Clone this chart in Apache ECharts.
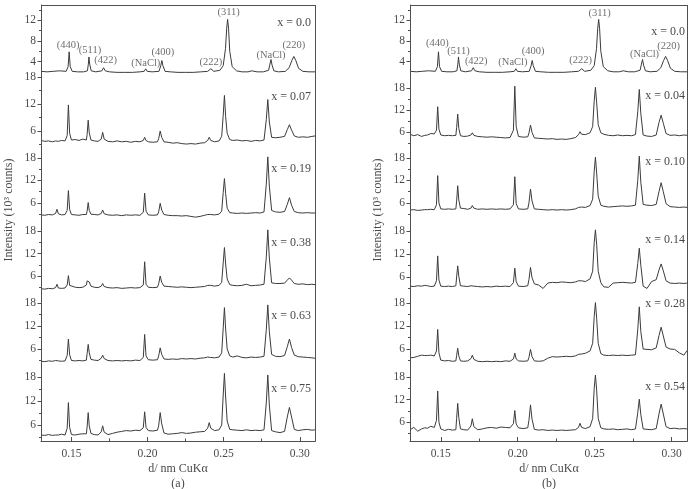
<!DOCTYPE html>
<html lang="en">
<head>
<meta charset="UTF-8">
<title>XRD patterns</title>
<script src="https://cdn.jsdelivr.net/npm/echarts@6/dist/echarts.min.js"></script>
<style>
  html, body { margin: 0; padding: 0; background: #fff; }
  #chart { width: 691px; height: 489px; }
</style>
</head>
<body>
<div id="chart"></div>
<script>
// d spacing (nm) sampled for the undoped x = 0.0 pattern (top row of both panels)
var dTop = [
  0.1300, 0.1340, 0.1380, 0.1420, 0.1465, 0.1478, 0.1485, 0.1492, 0.1505, 0.1540,
  0.1580, 0.1605, 0.1611, 0.1615, 0.1620, 0.1630, 0.1660, 0.1700, 0.1711, 0.1722,
  0.1750, 0.1800, 0.1850, 0.1900, 0.1950, 0.1978, 0.1988, 0.1998, 0.2030, 0.2075,
  0.2087, 0.2094, 0.2101, 0.2115, 0.2150, 0.2200, 0.2250, 0.2300, 0.2350, 0.2395,
  0.2416, 0.2435, 0.2475, 0.2497, 0.2512, 0.2520, 0.2526, 0.2532, 0.2540, 0.2556,
  0.2585, 0.2620, 0.2660, 0.2685, 0.2720, 0.2760, 0.2795, 0.2804, 0.2811, 0.2818,
  0.2830, 0.2860, 0.2905, 0.2930, 0.2948, 0.2961, 0.2974, 0.2992, 0.3020, 0.3060,
  0.3100
];
var x00 = [
  2.1, 2.0, 2.1, 2.2, 2.1, 3.0, 5.9, 3.0, 2.1, 2.0,
  2.0, 2.2, 3.5, 4.9, 3.5, 2.2, 2.0, 2.2, 2.8, 2.2,
  2.0, 1.9, 1.9, 1.9, 2.0, 2.1, 2.6, 2.1, 2.0, 2.1,
  3.2, 4.2, 3.2, 2.1, 2.0, 1.9, 1.9, 1.9, 2.0, 2.1,
  2.6, 2.1, 2.3, 3.2, 6.5, 10.5, 12.2, 10.5, 6.0, 3.0,
  2.2, 2.0, 2.0, 2.2, 2.0, 2.0, 2.3, 3.5, 4.4, 3.3,
  2.2, 2.0, 2.1, 2.8, 4.2, 5.0, 4.2, 2.7, 2.1, 2.0,
  2.0
];

// d spacing (nm) sampled for the doped samples
var dGrid = [
  0.1300, 0.1325, 0.1350, 0.1375, 0.1396, 0.1405, 0.1414, 0.1435, 0.1458, 0.1472,
  0.1480, 0.1488, 0.1500, 0.1525, 0.1550, 0.1575, 0.1598, 0.1603, 0.1610, 0.1617,
  0.1628, 0.1650, 0.1675, 0.1696, 0.1705, 0.1715, 0.1740, 0.1770, 0.1800, 0.1830,
  0.1860, 0.1890, 0.1920, 0.1950, 0.1972, 0.1981, 0.1990, 0.2005, 0.2035, 0.2065,
  0.2073, 0.2083, 0.2093, 0.2108, 0.2135, 0.2165, 0.2195, 0.2225, 0.2255, 0.2285,
  0.2315, 0.2345, 0.2375, 0.2395, 0.2405, 0.2415, 0.2440, 0.2470, 0.2487, 0.2497,
  0.2505, 0.2513, 0.2523, 0.2540, 0.2560, 0.2590, 0.2620, 0.2650, 0.2680, 0.2710,
  0.2740, 0.2765, 0.2780, 0.2790, 0.2800, 0.2815, 0.2840, 0.2870, 0.2900, 0.2918,
  0.2932, 0.2946, 0.2964, 0.2990, 0.3020, 0.3050, 0.3080, 0.3100
];

// panel (a)
var a07 = [
  3.9, 3.7, 3.8, 3.6, 3.8, 3.9, 3.7, 3.9, 3.8, 5.0,
  11.8, 5.5, 4.0, 4.1, 3.9, 4.2, 4.0, 5.2, 8.4, 5.6,
  4.0, 3.8, 3.7, 4.2, 5.7, 4.2, 3.7, 3.6, 3.8, 3.6,
  3.7, 3.5, 3.7, 3.6, 3.9, 4.6, 3.9, 3.6, 3.5, 3.6,
  4.3, 6.0, 4.6, 3.6, 3.5, 3.3, 3.4, 3.2, 3.1, 3.2,
  3.1, 3.3, 3.4, 3.9, 4.6, 3.9, 3.6, 3.8, 4.8, 9.5,
  13.9, 9.2, 5.5, 4.1, 3.9, 4.0, 3.8, 3.9, 3.7, 3.9,
  3.8, 4.0, 8.5, 13.0, 8.0, 4.6, 4.5, 4.6, 4.8, 6.3,
  7.4, 6.2, 4.9, 4.6, 4.7, 4.6, 4.8, 4.9
];
var a19 = [
  2.8, 2.7, 2.9, 2.8, 3.2, 4.3, 3.1, 2.8, 2.9, 4.0,
  9.3, 4.3, 2.9, 2.8, 2.7, 2.9, 2.9, 3.8, 6.1, 4.0,
  3.0, 2.9, 2.8, 3.2, 4.1, 3.1, 2.8, 2.7, 2.8, 2.6,
  2.8, 2.7, 2.8, 2.7, 3.5, 8.6, 3.8, 2.8, 2.7, 2.8,
  3.6, 5.9, 4.1, 2.9, 2.7, 2.6, 2.6, 2.5, 2.6, 2.4,
  2.2, 2.4, 2.7, 2.9, 3.3, 2.9, 2.8, 3.0, 3.8, 8.8,
  12.5, 8.5, 4.6, 3.4, 3.3, 3.2, 3.3, 3.2, 3.3, 3.4,
  3.3, 3.6, 11.0, 18.3, 10.5, 4.0, 3.6, 3.5, 3.7, 5.6,
  7.4, 5.4, 3.7, 3.4, 3.3, 3.4, 3.3, 3.3
];
var a38 = [
  2.6, 2.5, 2.7, 2.6, 2.9, 3.8, 2.8, 2.7, 2.8, 3.6,
  6.1, 3.5, 3.0, 3.0, 2.9, 3.0, 3.6, 4.7, 4.9, 4.4,
  3.3, 3.0, 2.9, 3.3, 4.0, 3.2, 2.9, 2.8, 2.9, 2.7,
  2.8, 2.9, 2.8, 2.9, 3.6, 9.8, 3.8, 3.0, 2.9, 3.0,
  3.9, 6.0, 4.3, 3.3, 3.2, 3.1, 3.0, 3.1, 3.0, 2.9,
  3.0, 3.1, 3.2, 3.5, 4.0, 3.5, 3.3, 3.5, 4.3, 9.5,
  13.6, 9.2, 5.2, 3.7, 3.5, 3.4, 3.5, 3.8, 3.4, 3.5,
  3.6, 3.8, 11.0, 18.3, 10.8, 4.2, 4.0, 4.0, 4.1, 4.9,
  5.5, 4.9, 4.0, 3.8, 3.9, 3.7, 3.8, 3.7
];
var a63 = [
  2.8, 2.7, 2.9, 2.8, 3.0, 3.3, 2.9, 2.8, 2.9, 4.3,
  8.6, 4.5, 3.0, 2.9, 3.0, 2.9, 3.1, 4.8, 7.2, 5.0,
  3.3, 3.1, 3.0, 3.6, 4.4, 3.5, 3.0, 2.9, 3.0, 2.9,
  3.0, 2.9, 3.1, 3.0, 3.8, 9.8, 4.2, 3.2, 3.1, 3.2,
  4.2, 6.3, 4.6, 3.4, 3.3, 3.4, 3.3, 3.5, 3.4, 3.5,
  3.4, 3.6, 3.7, 3.9, 4.0, 3.8, 3.7, 3.9, 5.0, 11.5,
  16.8, 11.2, 6.0, 4.2, 3.9, 4.2, 3.8, 3.7, 3.9, 3.8,
  3.9, 4.1, 11.0, 17.5, 10.5, 4.6, 4.1, 4.0, 4.3, 6.6,
  8.6, 6.4, 4.4, 4.0, 3.9, 3.8, 3.7, 3.6
];
var a75 = [
  3.5, 3.4, 3.6, 3.4, 3.5, 3.6, 3.5, 3.7, 3.5, 5.2,
  11.6, 5.4, 3.6, 3.5, 3.7, 3.8, 3.8, 5.5, 9.1, 5.8,
  3.9, 3.6, 3.5, 4.3, 5.8, 4.2, 3.6, 3.9, 4.2, 4.4,
  4.6, 4.5, 4.7, 4.6, 5.3, 9.3, 5.4, 4.6, 4.5, 4.7,
  5.8, 9.1, 6.3, 4.0, 3.7, 3.8, 3.9, 4.1, 3.9, 4.0,
  4.2, 4.3, 4.4, 5.2, 6.6, 5.2, 4.6, 4.8, 6.0, 13.5,
  18.9, 13.0, 7.0, 4.9, 4.8, 4.7, 4.6, 4.8, 4.6, 4.7,
  4.6, 4.8, 11.5, 18.5, 11.0, 4.6, 4.3, 4.1, 4.4, 8.0,
  10.4, 8.0, 4.9, 4.6, 4.8, 4.9, 4.7, 4.8
];

// panel (b)
var b04 = [
  5.4, 5.0, 5.3, 4.8, 5.1, 5.0, 5.2, 5.6, 5.5, 6.5,
  12.9, 6.8, 5.2, 5.0, 5.1, 5.0, 5.1, 7.2, 10.9, 7.0,
  5.0, 4.8, 4.9, 5.2, 5.8, 5.1, 4.8, 4.7, 4.6, 4.7,
  4.6, 4.5, 4.4, 4.5, 6.5, 18.5, 7.5, 4.8, 4.6, 4.7,
  5.7, 7.9, 5.9, 4.4, 4.3, 4.2, 4.1, 4.2, 4.0, 4.1,
  4.0, 4.2, 4.5, 5.3, 6.1, 5.4, 5.3, 5.8, 7.5, 14.5,
  18.2, 14.0, 8.0, 5.8, 5.4, 5.1, 5.0, 5.2, 5.0, 5.1,
  5.0, 5.3, 11.5, 17.6, 11.0, 5.2, 4.9, 4.8, 5.2, 8.6,
  10.6, 8.4, 5.6, 5.1, 5.2, 5.0, 5.2, 5.1
];
var b10 = [
  4.1, 4.2, 4.0, 4.1, 4.2, 4.1, 4.2, 4.3, 4.2, 5.5,
  13.3, 6.0, 4.4, 4.3, 4.4, 4.3, 4.4, 6.5, 10.6, 6.8,
  4.6, 4.5, 4.3, 4.6, 5.3, 4.6, 4.3, 4.4, 4.3, 4.4,
  4.3, 4.4, 4.3, 4.4, 5.5, 13.0, 5.8, 4.4, 4.3, 4.4,
  6.0, 9.7, 6.5, 4.4, 4.3, 4.2, 4.1, 4.2, 4.1, 4.2,
  4.1, 4.2, 4.4, 4.8, 5.3, 4.9, 4.8, 5.3, 7.0, 14.5,
  18.2, 14.0, 7.8, 5.4, 5.1, 4.9, 5.0, 5.1, 5.2, 5.1,
  5.2, 5.4, 12.0, 18.5, 11.5, 5.6, 5.4, 5.3, 5.6, 9.0,
  11.4, 9.0, 5.8, 5.0, 4.9, 4.8, 4.9, 4.8
];
var b14 = [
  3.6, 3.5, 3.7, 3.6, 3.8, 3.5, 3.7, 3.5, 3.6, 5.0,
  11.5, 5.2, 3.6, 3.5, 3.6, 3.5, 3.7, 6.0, 8.9, 6.2,
  3.7, 3.6, 3.5, 3.7, 3.9, 3.6, 3.5, 3.4, 3.5, 3.4,
  3.6, 3.5, 3.6, 3.5, 4.5, 8.3, 4.8, 3.6, 3.5, 3.7,
  5.3, 8.5, 5.8, 4.2, 3.9, 3.0, 4.4, 4.6, 4.5, 4.7,
  4.6, 4.5, 4.7, 5.0, 5.4, 5.0, 4.8, 5.5, 7.5, 15.0,
  18.3, 14.5, 7.5, 4.5, 3.4, 3.3, 4.4, 4.5, 4.6, 4.5,
  4.4, 4.6, 9.5, 13.5, 9.0, 3.6, 3.0, 4.8, 5.3, 7.8,
  9.4, 7.6, 5.0, 4.4, 4.3, 4.4, 4.3, 4.4
];
var b28 = [
  3.7, 3.8, 4.1, 4.4, 4.3, 4.5, 4.3, 4.4, 4.2, 5.5,
  11.1, 5.0, 3.1, 2.9, 3.0, 2.8, 2.9, 4.3, 6.2, 4.2,
  2.9, 2.8, 2.9, 3.5, 4.4, 3.3, 2.8, 2.7, 2.8, 2.7,
  2.8, 2.7, 2.9, 2.8, 3.4, 4.9, 3.4, 2.9, 2.8, 2.9,
  3.8, 5.9, 4.0, 2.9, 2.8, 2.9, 3.6, 4.0, 3.9, 4.0,
  4.1, 4.0, 4.2, 4.6, 4.9, 4.7, 4.9, 5.5, 7.5, 14.5,
  18.1, 14.0, 7.5, 4.8, 4.4, 4.3, 4.4, 4.3, 4.4, 4.3,
  4.4, 4.5, 11.0, 17.0, 10.5, 6.0, 5.9, 5.8, 6.3, 9.5,
  11.7, 9.4, 6.5, 6.0, 5.9, 5.0, 4.4, 5.6
];
var b54 = [
  4.0, 4.6, 3.6, 4.2, 4.5, 4.8, 4.4, 4.9, 4.6, 6.5,
  14.3, 6.0, 4.2, 3.8, 4.1, 3.9, 4.0, 7.0, 11.0, 7.2,
  4.2, 4.0, 3.9, 5.0, 6.9, 4.8, 4.0, 4.2, 4.5, 4.6,
  4.4, 4.7, 4.6, 4.5, 5.6, 9.1, 5.5, 4.5, 4.3, 4.5,
  6.5, 10.6, 6.8, 4.1, 3.9, 4.0, 3.8, 3.9, 3.8, 3.9,
  3.8, 3.9, 4.0, 4.6, 5.7, 4.6, 4.3, 4.8, 7.0, 15.0,
  18.5, 14.5, 7.0, 4.5, 4.2, 4.1, 4.2, 4.0, 4.1, 4.2,
  4.0, 4.2, 8.5, 12.1, 8.0, 4.2, 4.1, 4.0, 4.3, 8.2,
  10.8, 8.2, 4.8, 4.3, 4.4, 4.2, 4.3, 4.2
];

var tagsA = ['x = 0.0', 'x = 0.07', 'x = 0.19', 'x = 0.38', 'x = 0.63', 'x = 0.75'];
var tagsB = ['x = 0.0', 'x = 0.04', 'x = 0.10', 'x = 0.14', 'x = 0.28', 'x = 0.54'];
var peakNames = ['(440)', '(511)', '(422)', '(NaCl)', '(400)', '(222)', '(311)', '(NaCl)', '(220)'];
var peakD = [0.1485, 0.1615, 0.1711, 0.1988, 0.2094, 0.2416, 0.2526, 0.2811, 0.2961];
var xTicks = [0.15, 0.20, 0.25, 0.30];
var xMinor = [0.175, 0.225, 0.275];

var FONT = '"Liberation Serif", "DejaVu Serif", serif';
var INK = '#3b3b3b';
var TEXT = '#4a4a4a';
var FRAME = '#505050';
var X_MIN = 0.13, X_MAX = 0.31;

// rows: [top px, bottom px, y min, y max]; rows touch so the edges form the frame
var panels = [
  {
    left: 41, width: 274, tagX: 311,
    rows: [[5, 77, 1, 15], [77, 158, 0, 18], [158, 231, -1.5, 18], [231, 303, -1.2, 18], [303, 377, -1.3, 18], [377, 441, 2, 18]],
    tagY: [23, 97, 169, 243, 316, 389],
    tags: tagsA,
    curves: [[dTop, x00], [dGrid, a07], [dGrid, a19], [dGrid, a38], [dGrid, a63], [dGrid, a75]],
    // label nudges [dx, extra lift] for the peak names
    nudge: [[-1, 1], [1, 1], [2, 1], [0, 0], [1, 2], [0, 1], [1, 1], [0, -2], [0, 5]],
    yName: [9, 210], xName: [178, 469], letter: '(a)'
  },
  {
    left: 410, width: 277, tagX: 685,
    rows: [[5, 88, -1.15, 15], [88, 158, -1.07, 18], [158, 231, -1.5, 18], [231, 303, -0.8, 18], [303, 377, -1.3, 18], [377, 441, 1, 18]],
    tagY: [32, 96, 162, 240, 304, 387],
    tags: tagsB,
    curves: [[dTop, x00], [dGrid, b04], [dGrid, b10], [dGrid, b14], [dGrid, b28], [dGrid, b54]],
    nudge: [[-1, 3], [0, 0], [3, 0], [-3, 0], [1, 3], [-1, 2], [1, 0], [2, -1], [3, 4]],
    yName: [378, 210], xName: [549, 469], letter: '(b)'
  }
];

var chart = echarts.init(document.getElementById('chart'));
var option = { animation: false, grid: [], xAxis: [], yAxis: [], series: [], graphic: [] };

function nearest(arr, v) {
  var best = 0;
  arr.forEach(function (a, i) {
    if (Math.abs(a - v) < Math.abs(arr[best] - v)) best = i;
  });
  return best;
}

function text(x, y, str, size, align, rot) {
  return {
    type: 'text', x: x, y: y, rotation: rot || 0, silent: true,
    style: {
      text: str, font: size + 'px ' + FONT, fill: TEXT,
      textAlign: align, align: align, textVerticalAlign: 'middle', verticalAlign: 'middle'
    }
  };
}

function line() {
  return { show: true, onZero: false, lineStyle: { color: FRAME, width: 1 } };
}

panels.forEach(function (p) {
  p.rows.forEach(function (row, r) {
    var gi = option.grid.length;
    var last = r === p.rows.length - 1;
    var major = r === 0 ? [4, 8, 12] : [6, 12, 18];
    var minor = r === 0 ? [6, 10, 14] : [3, 9, 15];
    option.grid.push({ left: p.left, top: row[0], width: p.width, height: row[1] - row[0] });

    var xi = option.xAxis.length;
    option.xAxis.push({
      gridIndex: gi, type: 'value', position: 'bottom', min: X_MIN, max: X_MAX,
      axisLine: last ? line() : { show: false }, splitLine: { show: false },
      axisTick: { show: last, inside: true, length: 4, customValues: xTicks, lineStyle: { color: FRAME } },
      axisLabel: {
        show: last, customValues: xTicks, margin: 7, color: TEXT, fontSize: 11.5, fontFamily: FONT,
        formatter: function (v) { return v.toFixed(2); }
      }
    });
    if (last) {
      option.xAxis.push({
        gridIndex: gi, type: 'value', position: 'bottom', min: X_MIN, max: X_MAX,
        axisLine: { show: false }, splitLine: { show: false }, axisLabel: { show: false },
        axisTick: { inside: true, length: 2.5, customValues: xMinor, lineStyle: { color: FRAME } }
      });
    }

    var yi = option.yAxis.length;
    option.yAxis.push({
      gridIndex: gi, type: 'value', position: 'left', min: row[2], max: row[3],
      axisLine: line(), splitLine: { show: false },
      axisTick: { length: 3.5, customValues: major, lineStyle: { color: FRAME } },
      axisLabel: { customValues: major, margin: 5, color: TEXT, fontSize: 11.5, fontFamily: FONT }
    });
    option.yAxis.push({
      gridIndex: gi, type: 'value', position: 'left', min: row[2], max: row[3],
      axisLine: { show: false }, splitLine: { show: false }, axisLabel: { show: false },
      axisTick: { length: 2, customValues: minor, lineStyle: { color: FRAME } }
    });

    // frame edges drawn as mark lines on the axis limits of this row
    var edges = [{ xAxis: X_MIN }, { xAxis: X_MAX }];
    if (r === 0) edges.push({ yAxis: row[3] });
    if (last) edges.push({ yAxis: row[2] });

    var c = p.curves[r];
    option.series.push({
      type: 'line', xAxisIndex: xi, yAxisIndex: yi, silent: true,
      symbol: 'none', clip: false,
      lineStyle: { color: INK, width: 1 },
      data: c[0].map(function (d, i) { return [d, c[1][i]]; }),
      markLine: {
        silent: true, animation: false, symbol: ['none', 'none'],
        label: { show: false },
        lineStyle: { color: FRAME, width: 1, type: 'solid' },
        emphasis: { disabled: true },
        data: edges
      }
    });

    if (r === 0) {
      option.series.push({
        type: 'scatter', xAxisIndex: xi, yAxisIndex: yi, silent: true,
        symbolSize: 1, itemStyle: { color: 'transparent' },
        label: { show: true, position: 'top', distance: 0, color: TEXT, fontSize: 10.5, fontFamily: FONT },
        data: peakD.map(function (d, k) {
          var top = c[1][nearest(c[0], d)];
          return {
            value: [d, top],
            label: { formatter: peakNames[k], offset: [p.nudge[k][0], -p.nudge[k][1]] }
          };
        })
      });
    }

    option.graphic.push(text(p.tagX, p.tagY[r], p.tags[r], 12, 'right'));
  });

  option.graphic.push({
    type: 'rect', left: p.left, top: 5, silent: true, z: 100,
    shape: { width: p.width, height: 436 },
    style: { fill: 'rgba(0,0,0,0)', stroke: FRAME, lineWidth: 1 }
  });

  option.graphic.push(text(p.yName[0], p.yName[1], 'Intensity (10³ counts)', 12, 'center', Math.PI / 2));
  option.graphic.push(text(p.xName[0], p.xName[1], 'd/ nm CuKα', 12, 'center'));
  option.graphic.push(text(p.xName[0], p.xName[1] + 15, p.letter, 12, 'center'));
});

chart.setOption(option);
</script>
</body>
</html>
